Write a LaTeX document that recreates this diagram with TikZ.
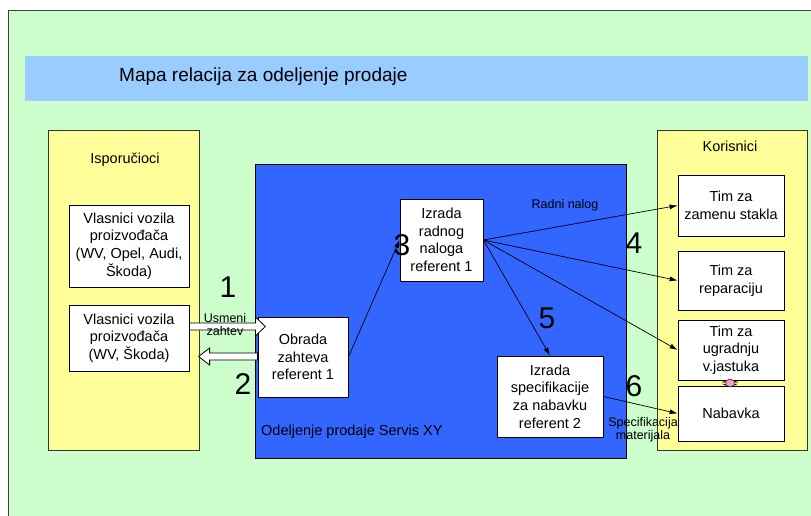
\documentclass[tikz,border=0pt]{standalone}
\usepackage{fontspec}
\setmainfont{Liberation Sans}
\usetikzlibrary{calc,arrows.meta}
\definecolor{bggreen}{HTML}{CCFFCC}
\definecolor{bandblue}{HTML}{99CCFF}
\definecolor{panelyellow}{HTML}{FFFF99}
\definecolor{deptblue}{HTML}{3366FF}
\definecolor{linkpink}{HTML}{FF99CC}
\newcommand{\boxfnt}{\fontsize{14.5}{17.6}\selectfont}
\newcommand{\numfnt}{\fontsize{30}{32}\selectfont}
\newcommand{\smallfnt}{\fontsize{12.5}{13.5}\selectfont}
\newcommand{\titlefnt}{\fontsize{19}{22}\selectfont}
\begin{document}
\begin{tikzpicture}[x=1pt,y=-1pt,
  wbox/.style={draw=black, fill=white, line width=0.8pt, align=center,
    inner sep=1pt, font=\boxfnt},
  panel/.style={draw=black!80, fill=panelyellow, line width=0.8pt},
  num/.style={font=\numfnt, inner sep=0pt},
  lbl/.style={font=\smallfnt, align=center, inner sep=0pt},
  flow/.style={draw=black, line width=0.7pt, -{Latex[length=8pt,width=5pt]}},
  blockarr/.style={draw=black, fill=white, line width=0.8pt, line join=miter}]
\useasboundingbox (0,0) rectangle (811,516);
% page background
\fill[white] (0,0) rectangle (811,516);
\fill[bggreen] (8,10) rectangle (811,516);
\draw[black!75, line width=0.9pt] (8,516) -- (8,10) -- (811,10);
% title band
\fill[bandblue] (25,56) rectangle (808,101);
\node[anchor=west, font=\titlefnt, inner sep=0pt] (title) at (119,77) {Mapa relacija za odeljenje prodaje};

% supplier panel
\draw[panel] (48,130) rectangle (199,450);
\node[font=\boxfnt, inner sep=0pt] (isp) at (125,160) {Isporučioci};
\node[wbox, minimum width=120, minimum height=82] (vA) at (129,246)
  {Vlasnici vozila\\proizvođača\\(WV, Opel, Audi,\\Škoda)};
\node[wbox, minimum width=120, minimum height=66] (vB) at (129,338)
  {Vlasnici vozila\\proizvođača\\(WV, Škoda)};

% sales department
\draw[draw=black, fill=deptblue, line width=0.8pt] (255,164) rectangle (626,458);
\node[anchor=west, font=\boxfnt, inner sep=0pt] (dept) at (261,432) {Odeljenje prodaje Servis XY};
\node[wbox, minimum width=90, minimum height=80] (obr) at (303,357)
  {Obrada\\zahteva\\referent 1};
\node[wbox, minimum width=83, minimum height=82] (izr) at (441.5,240)
  {Izrada\\radnog\\naloga\\referent 1};
\node[wbox, minimum width=106, minimum height=81] (spec) at (550,396.5)
  {Izrada\\specifikacije\\za nabavku\\referent 2};

% customer panel
\draw[panel] (657,130) rectangle (807,450);
\node[font=\boxfnt, inner sep=0pt] (kor) at (730,146) {Korisnici};
\node[wbox, minimum width=106, minimum height=61] (tz) at (731,205.5) {Tim za\\zamenu stakla};
\node[wbox, minimum width=106, minimum height=59] (tr) at (731,280.5) {Tim za\\reparaciju};
\node[wbox, minimum width=106, minimum height=60] (tu) at (731,350) {Tim za\\ugradnju\\v.jastuka};
\node[wbox, minimum width=106, minimum height=55] (nab) at (731,413.5) {Nabavka};

% small link between the two lower customer boxes
\draw[draw=black, fill=linkpink, line width=0.5pt]
  (730,379) -- (737,382) -- (734,382) -- (734,384) -- (737,384) -- (730,387)
  -- (723,384) -- (726,384) -- (726,382) -- (723,382) -- cycle;

% verbal request and answer
\draw[blockarr] ($(vB.east)+(0,-15)$) -- ++(66,0) -- ++(0,-6) -- ++(10,9.5)
  -- ++(-10,9.5) -- ++(0,-6) -- ($(vB.east)+(0,-8)$) -- cycle;
\draw[blockarr] ($(obr.west)+(0,-4)$) -- ++(-48,0) -- ++(0,-5) -- ++(-11,8.5)
  -- ++(11,8.5) -- ++(0,-5) -- ($(obr.west)+(0,3)$) -- cycle;

% work order flow
\draw[flow] (obr.east) -- (izr.west);
\draw[flow] (izr.east) -- (tz.west);
\draw[flow] (izr.east) -- (tr.west);
\draw[flow] (izr.east) -- (tu.west);
\draw[flow] (izr.east) -- (spec.north);
\draw[flow] (spec.east) -- (nab.west);

% step numbers and connector labels
\node[num] (n1) at (228,287) {1};
\node[num] (n2) at (243,384) {2};
\node[num] (n3) at (402,245) {3};
\node[num] (n4) at (634,243) {4};
\node[num] (n5) at (547,318) {5};
\node[num] (n6) at (634,386) {6};
\node[lbl] (usm) at (225,324.5) {Usmeni\\zahtev};
\node[lbl] (rad) at (565,205) {Radni nalog};
\node[lbl] (smat) at (643,430) {Specifikacija\\materijala};
\end{tikzpicture}
\end{document}
